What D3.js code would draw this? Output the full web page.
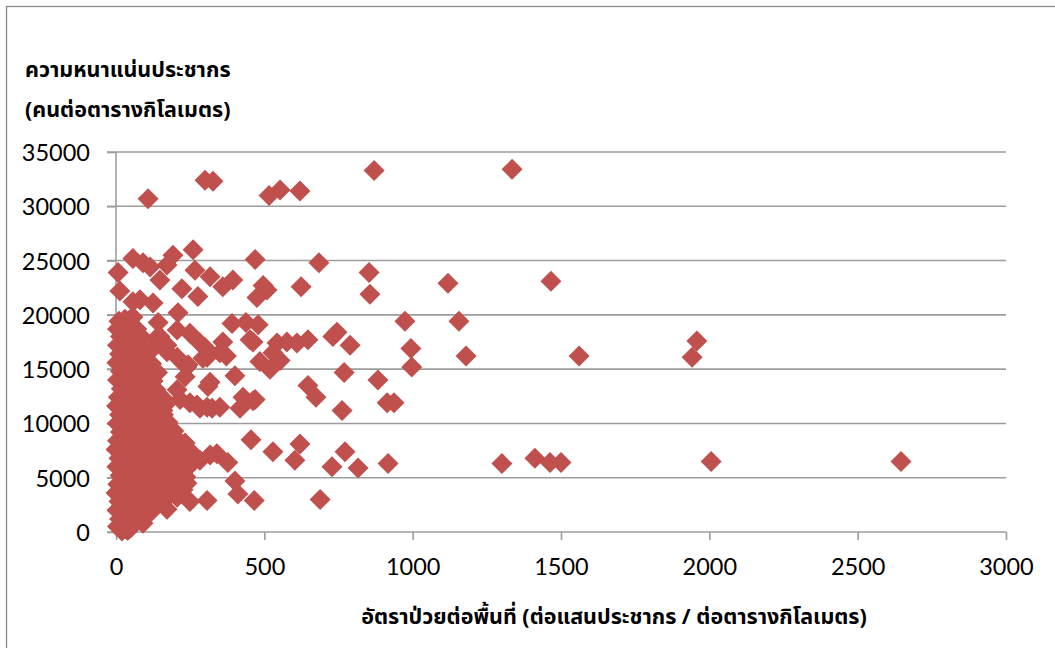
<!DOCTYPE html>
<html>
<head>
<meta charset="utf-8">
<script src="https://cdn.jsdelivr.net/npm/d3@7"></script>
<style>
  html, body { margin: 0; padding: 0; background: #fff; }
  svg { display: block; }
  .tick text { font-family: Lato, "Open Sans", "Noto Sans", sans-serif; fill: #000; }
  .title { font-family: "Noto Sans Thai", "Leelawadee UI", Tahoma, "Noto Sans", sans-serif; font-weight: bold; fill: #000; }
</style>
</head>
<body>
<svg id="chart" width="1055" height="648"></svg>
<script>
// Axis ticks
const xTicks = [0, 500, 1000, 1500, 2000, 2500, 3000];
const yTicks = [0, 5000, 10000, 15000, 20000, 25000, 30000, 35000];

// Scattered districts: [rate per area, population density]
const spreadPoints = [
  [108,30700],[300,32400],[327,32300],[516,31000],[553,31500],[620,31400],[870,33300],[1335,33400],
  [57,25200],[91,24800],[115,24400],[192,25500],[172,24600],[260,26000],[469,25100],[684,24800],
  [7,23900],[13,22200],[148,23200],[222,22400],[266,24100],[317,23500],[360,22600],[394,23200],
  [496,22700],[509,22300],[475,21600],[624,22600],[853,23900],[856,21900],[1119,22900],[1466,23100],
  [57,21200],[81,21400],[125,21100],[276,21700],
  [57,19800],[142,19300],[209,20200],[391,19200],[438,19300],[479,19100],[974,19400],[1156,19400],
  [249,18300],[131,17700],[172,17200],[125,16900],[172,16600],[206,16100],[239,15200],
  [148,18000],[206,18600],[283,17400],[307,16100],[350,16500],[243,15400],[233,14300],
  [300,17000],[293,16000],[360,17500],[372,16200],[452,17700],[462,17500],
  [543,17400],[576,17500],[610,17400],[647,17700],[731,18000],[745,18400],[789,17200],
  [994,16900],[997,15200],[1180,16200],[1561,16200],[1958,17600],[1942,16100],
  [485,15700],[519,15000],[529,16500],[553,15800],
  [769,14700],[883,14000],[647,13500],[674,12400],
  [401,14400],[310,13400],[317,13800],[428,12400],[462,12100],[418,11400],
  [206,13100],[216,12200],[249,11900],[283,11400],[307,11500],[350,11500],[273,11700],[324,11400],[158,11200],
  [469,12200],[762,11200],[914,11900],[937,11900],
  [455,8500],[529,7400],[603,6600],[620,8100],[772,7400],[728,6000],[816,5900],[917,6300],
  [1301,6300],[1412,6800],[1463,6400],[1500,6400],[2006,6500],[2646,6500],
  [233,8200],[256,7300],[283,6600],[317,7100],[340,7200],[377,6400],
  [401,4700],[411,3500],[466,2900],[233,5000],[239,4500],[206,3900],[226,3900],
  [249,2800],[307,2900],[688,3000],[172,2100],[206,3200],[206,5700],
  [91,800],[37,200]
];

// Dense group of districts close to the origin
const clusterPoints = [
  [10,19400],[30,19600],[45,19500],
  [5,18700],[25,18800],[50,18600],[70,18700],
  [15,18000],[40,17900],[60,18100],[85,18000],
  [5,17200],[30,17300],[55,17100],[78,17200],
  [12,16400],[35,16500],[60,16300],[85,16400],[100,16600],
  [3,15600],[25,15700],[48,15500],[70,15600],[95,15700],[120,15500],
  [15,14800],[40,14900],[62,14700],[88,14800],[110,14900],[140,14700],
  [5,14000],[28,14100],[52,13900],[75,14000],[100,14100],[125,13900],
  [18,13200],[40,13300],[65,13100],[90,13200],[115,13300],[135,13100],
  [8,12400],[30,12500],[55,12300],[80,12400],[105,12500],[130,12300],[155,12400],
  [2,11600],[22,11700],[45,11500],[70,11600],[95,11700],[120,11500],[145,11600],[165,11700],
  [12,10800],[35,10900],[60,10700],[85,10800],[110,10900],[135,10700],[160,10800],
  [4,10000],[25,10100],[50,9900],[75,10000],[100,10100],[125,9900],[150,10000],[175,10100],
  [15,9200],[38,9300],[62,9100],[88,9200],[112,9300],[140,9100],[165,9200],[195,9300],
  [5,8400],[28,8500],[52,8300],[78,8400],[102,8500],[128,8300],[155,8400],[180,8500],[215,8300],
  [0,7600],[18,7700],[42,7500],[68,7600],[92,7700],[118,7500],[145,7600],[170,7700],[200,7500],[240,7600],
  [10,6800],[32,6900],[58,6700],[82,6800],[108,6900],[135,6700],[160,6800],[190,6900],[225,6700],[255,6800],
  [3,6000],[25,6100],[48,5900],[72,6000],[98,6100],[125,5900],[150,6000],[178,6100],[210,5900],[245,6000],
  [14,5200],[38,5300],[62,5100],[88,5200],[115,5300],[140,5100],[168,5200],[200,5300],[235,5100],
  [6,4400],[28,4500],[52,4300],[78,4400],[105,4500],[130,4300],[158,4400],[190,4500],
  [0,3600],[20,3700],[44,3500],[68,3600],[95,3700],[120,3500],[148,3600],[178,3700],
  [10,2800],[34,2900],[58,2700],[85,2800],[110,2900],[135,2700],[160,2800],
  [3,2000],[25,2100],[50,1900],[75,2000],[100,2100],[120,1900],
  [12,1200],[35,1300],[58,1100],[80,1200],
  [5,500],[28,600],[50,400],
  [20,100],[40,150]
];

const svg = d3.select("#chart");
const W = 1055, H = 648;

const x = d3.scaleLinear().domain([0, 3000]).range([116, 1006]);
const y = d3.scaleLinear().domain([0, 35000]).range([532, 152]);

// Chart frame (runs off the right and bottom edges)
svg.append("rect")
  .attr("x", 6.5).attr("y", 6.5)
  .attr("width", W + 20).attr("height", H + 20)
  .attr("fill", "#fff").attr("stroke", "#8a8a8a").attr("stroke-width", 1.3);

// Horizontal gridlines
svg.append("g")
  .selectAll("line")
  .data(yTicks)
  .join("line")
  .attr("x1", x(0) - 9).attr("x2", x(3000))
  .attr("y1", d => y(d)).attr("y2", d => y(d))
  .attr("stroke", "#9d9d9d").attr("stroke-width", 1.6);

// Y axis
const yAxis = svg.append("g")
  .attr("transform", `translate(${x(0)},0)`)
  .call(d3.axisLeft(y).tickValues(yTicks).tickSize(9).tickPadding(17).tickFormat(d3.format("d")));
yAxis.select(".domain").remove();
yAxis.selectAll(".tick line").attr("stroke", "#9d9d9d").attr("stroke-width", 1.6);
yAxis.selectAll(".tick text").attr("font-size", 23.5).attr("dy", "0.36em");
svg.append("line")
  .attr("x1", x(0)).attr("x2", x(0)).attr("y1", y(35000)).attr("y2", y(0))
  .attr("stroke", "#9d9d9d").attr("stroke-width", 1.6);

// X axis
const xAxis = svg.append("g")
  .attr("transform", `translate(0,${y(0)})`)
  .call(d3.axisBottom(x).tickValues(xTicks).tickSize(8).tickFormat(d3.format("d")));
xAxis.select(".domain").remove();
xAxis.selectAll(".tick line").attr("stroke", "#9d9d9d").attr("stroke-width", 1.6);
xAxis.selectAll(".tick text").attr("font-size", 23.5).attr("y", 35).attr("dy", "0.36em");

// Markers
const r = 10.5;
const diamond = `M0,${-r}L${r},0L0,${r}L${-r},0Z`;
svg.append("g")
  .selectAll("path")
  .data(clusterPoints.concat(spreadPoints))
  .join("path")
  .attr("d", diamond)
  .attr("transform", d => `translate(${x(d[0])},${y(d[1])})`)
  .attr("fill", "#c0504d");

// Axis titles
svg.append("text").attr("class", "title")
  .attr("x", 25).attr("y", 77).attr("font-size", 21.5)
  .text("ความหนาแน่นประชากร");
svg.append("text").attr("class", "title")
  .attr("x", 25).attr("y", 117).attr("font-size", 21.5)
  .text("(คนต่อตารางกิโลเมตร)");
svg.append("text").attr("class", "title")
  .attr("x", 614).attr("y", 624).attr("font-size", 21.5)
  .attr("text-anchor", "middle")
  .text("อัตราป่วยต่อพื้นที่ (ต่อแสนประชากร / ต่อตารางกิโลเมตร)");
</script>
</body>
</html>
